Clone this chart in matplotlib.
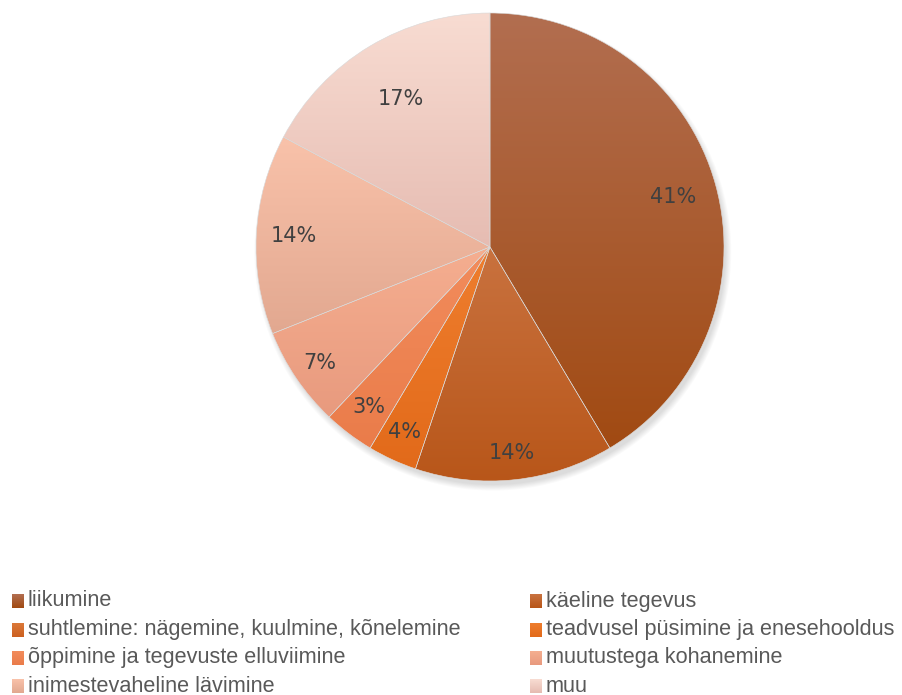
import numpy as np
import matplotlib.pyplot as plt
from matplotlib.colors import LinearSegmentedColormap
from matplotlib.patches import Circle

# andmed
categories = [
    "liikumine",
    "käeline tegevus",
    "suhtlemine: nägemine, kuulmine, kõnelemine",
    "teadvusel püsimine ja enesehooldus",
    "õppimine ja tegevuste elluviimine",
    "muutustega kohanemine",
    "inimestevaheline lävimine",
    "muu",
]
shares = [41.4, 13.7, 0.0, 3.4, 3.5, 6.9, 13.8, 17.2]
pct_labels = ["41%", "14%", "", "4%", "3%", "7%", "14%", "17%"]

# värvid (gradient ülevalt alla)
top_colors = ["#b26e50", "#c9723f", "#dc7a3a", "#ef7e2e",
              "#f28c5c", "#f5ae90", "#f9c2aa", "#f8dcd2"]
bottom_colors = ["#a14a12", "#b85619", "#cc6020", "#e26a1a",
                 "#ea7c4a", "#e89a7e", "#e2a890", "#e6bcb2"]
label_r = [0.81, 0.885, 0.85, 0.87, 0.855, 0.88, 0.84, 0.74]

W, H = 903, 695
fig = plt.figure(figsize=(W / 100, H / 100), dpi=100)
fig.patch.set_facecolor("white")

# pirukas: keskpunkt (490, 247) px, raadius 234 px
R = 234
lim = 1.1
size = 2 * lim * R
cx, cy = 490, 247
ax = fig.add_axes([(cx - size / 2) / W, (H - cy - size / 2) / H, size / W, size / H])
ax.set_xlim(-lim, lim)
ax.set_ylim(-lim, lim)
ax.set_aspect("equal")
ax.axis("off")

# vari (paremal all)
for k in range(7):
    ax.add_patch(Circle((0.012, -0.022), 0.995 + 0.004 * k, color="black",
                        alpha=0.02, lw=0, zorder=0))
ax.add_patch(Circle((0, 0), 1.0, color="white", lw=0, zorder=0.5))

wedges, _ = ax.pie(shares, startangle=90, counterclock=False, radius=1.0,
                   wedgeprops=dict(linewidth=0.4, edgecolor="#d8d8d8"))

for i, w in enumerate(wedges):
    if shares[i] <= 0:
        w.set_visible(False)
        continue
    verts = w.get_path().vertices
    y0, y1 = verts[:, 1].min(), verts[:, 1].max()
    cmap = LinearSegmentedColormap.from_list("g%d" % i, [bottom_colors[i], top_colors[i]])
    grad = np.linspace(0, 1, 256).reshape(-1, 1)
    im = ax.imshow(grad, cmap=cmap, extent=[-1, 1, y0, y1], origin="lower",
                   aspect="auto", zorder=1)
    im.set_clip_path(w)
    w.set_facecolor("none")
    w.set_zorder(2)
    mid = np.deg2rad((w.theta1 + w.theta2) / 2)
    r = label_r[i]
    ax.text(r * np.cos(mid), r * np.sin(mid), pct_labels[i], ha="center", va="center",
            fontsize=15, color="#404040", zorder=3)

ax.set_xlim(-lim, lim)
ax.set_ylim(-lim, lim)

# legend, kaks veergu
col_x = [12, 530]
row_y = [601, 630, 658, 686]
sw = 12
for i, name in enumerate(categories):
    x = col_x[i % 2]
    y = row_y[i // 2]
    cmap = LinearSegmentedColormap.from_list("l%d" % i, [bottom_colors[i], top_colors[i]])
    sax = fig.add_axes([x / W, (H - y - sw / 2 - 1) / H, sw / W, (sw + 2) / H])
    sax.imshow(np.linspace(0, 1, 32).reshape(-1, 1), cmap=cmap, origin="lower",
               aspect="auto", extent=[0, 1, 0, 1])
    sax.axis("off")
    fig.text((x + sw + 4) / W, (H - y) / H, name, ha="left", va="center",
             fontsize=15.6, color="#595959", family="Liberation Sans")

fig.savefig("out.png", dpi=100)
